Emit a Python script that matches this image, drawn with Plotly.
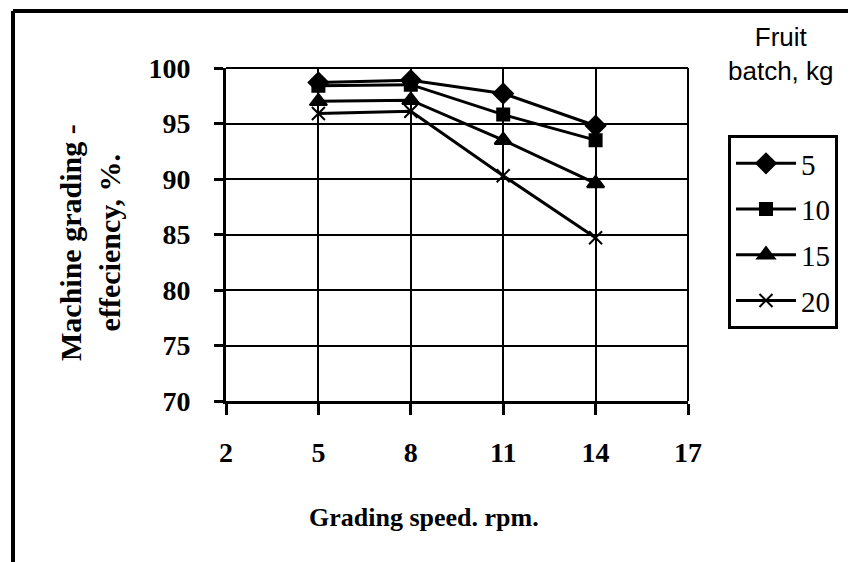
import plotly.graph_objects as go

speed = [5, 8, 11, 14]
batch_labels = ["5", "10", "15", "20"]
eff_5 = [98.7, 98.9, 97.7, 94.8]
eff_10 = [98.4, 98.5, 95.8, 93.5]
eff_15 = [97.0, 97.1, 93.5, 89.6]
eff_20 = [95.9, 96.1, 90.3, 84.7]
x_ticks = [2, 5, 8, 11, 14, 17]
y_ticks = [70, 75, 80, 85, 90, 95, 100]

series = [eff_5, eff_10, eff_15, eff_20]
symbols = ["diamond", "square", "triangle-up", "x-thin"]
sizes = [15, 12, 15, 13]

fig = go.Figure()
for lab, vals, sym, sz in zip(batch_labels, series, symbols, sizes):
    fig.add_trace(go.Scatter(
        x=speed, y=vals, name=lab, mode="lines+markers", legendgroup=lab,
        line=dict(color="black", width=3),
        marker=dict(symbol=sym, size=sz, color="black",
                    line=dict(color="black", width=2)),
    ))

# page offset: the browser body adds an 8px margin
OFF = 8
W, H = 856 - OFF, 562 - OFF
L_page, T_page = 226, 68
R, B = 168, 161
L, T = L_page - OFF, T_page - OFF
pw, ph = W - L - R, H - T - B

def px(x):
    return (x - L_page) / pw

def py(y):
    return 1 - (y - T_page) / ph

serif = "Times New Roman, Liberation Serif, serif"
sans = "Arial, Liberation Sans, sans-serif"
fig.update_layout(
    width=W, height=H,
    margin=dict(l=L, r=R, t=T, b=B, autoexpand=False),
    paper_bgcolor="white", plot_bgcolor="white",
    font=dict(family=serif, color="black"),
    showlegend=True,
    legend=dict(
        x=px(728), y=py(135), xanchor="left", yanchor="top",
        bordercolor="black", borderwidth=3, bgcolor="white",
        font=dict(family=serif, size=29, color="black"),
        tracegroupgap=5, itemwidth=60,
    ),
    xaxis=dict(
        range=[2, 17], tickvals=x_ticks, ticktext=[str(v) for v in x_ticks],
        showgrid=True, gridcolor="black", gridwidth=2,
        showline=True, linecolor="black", linewidth=3, mirror=False,
        ticks="outside", ticklen=11, tickwidth=3, tickcolor="black",
        tickfont=dict(family=serif, size=28, color="black", weight="bold"),
        ticklabelstandoff=13, zeroline=False,
    ),
    yaxis=dict(
        range=[70, 100], tickvals=y_ticks,
        showgrid=True, gridcolor="black", gridwidth=2,
        showline=True, linecolor="black", linewidth=3,
        ticks="outside", ticklen=9, tickwidth=3, tickcolor="black",
        tickfont=dict(family=serif, size=28, color="black", weight="bold"),
        ticklabelstandoff=18, zeroline=False,
    ),
)

# right and top plot borders
fig.add_shape(type="line", xref="paper", yref="paper", x0=1, x1=1, y0=0, y1=1,
              line=dict(color="black", width=2))
fig.add_shape(type="line", xref="paper", yref="paper", x0=0, x1=1, y0=1, y1=1,
              line=dict(color="black", width=2))

# outer frame (left and top)
fig.add_shape(type="line", xref="paper", yref="paper",
              x0=px(13), x1=px(13), y0=py(11), y1=py(600),
              line=dict(color="black", width=4))
fig.add_shape(type="line", xref="paper", yref="paper",
              x0=px(13), x1=px(900), y0=py(11), y1=py(11),
              line=dict(color="black", width=4))

fig.add_annotation(
    xref="paper", yref="paper", x=px(781), y=py(54),
    text="Fruit<br>batch, kg", showarrow=False,
    font=dict(family=sans, size=26, color="black"),
    xanchor="center", yanchor="middle", align="center",
)
fig.add_annotation(
    xref="paper", yref="paper", x=px(424), y=py(517),
    text="<b>Grading speed. rpm.</b>", showarrow=False,
    font=dict(family=serif, size=26, color="black"),
    xanchor="center", yanchor="middle",
)
fig.add_annotation(
    xref="paper", yref="paper", x=px(90), y=py(243),
    text="<b>Machine grading -<br>effeciency, %.</b>", showarrow=False,
    textangle=-90,
    font=dict(family=serif, size=30, color="black"),
    xanchor="center", yanchor="middle", align="center",
)

fig.write_html("out.html")
